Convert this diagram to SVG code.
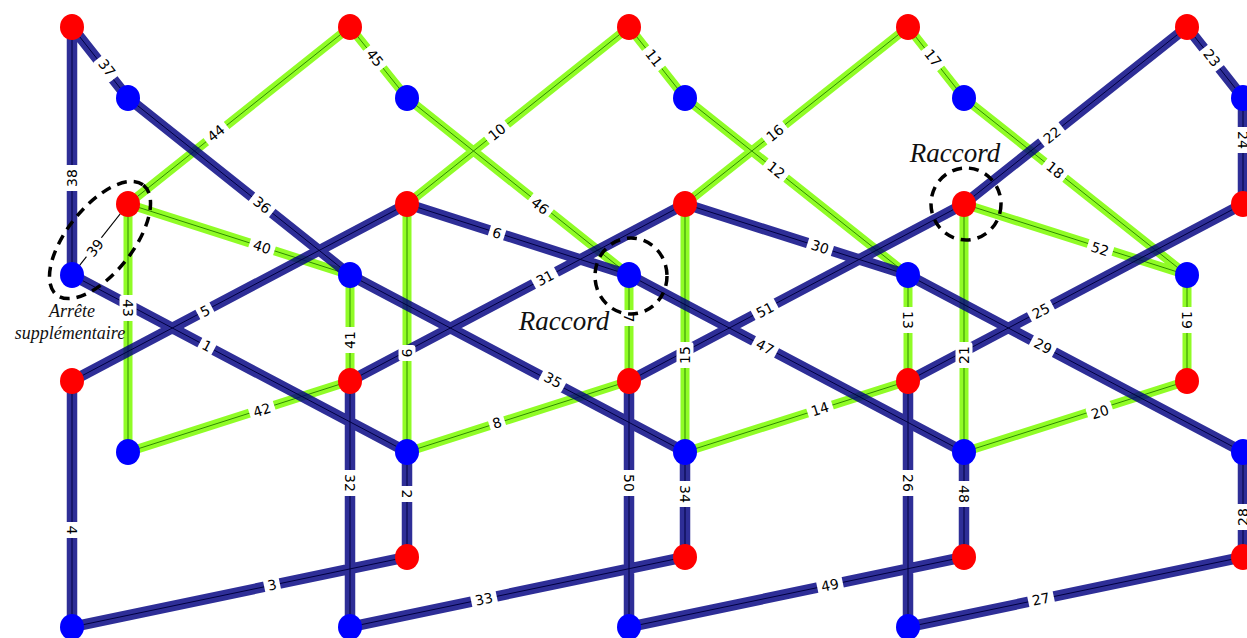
<svg xmlns="http://www.w3.org/2000/svg" width="1247" height="638" viewBox="0 0 1247 638">
<style>
.b{stroke:#000080;stroke-opacity:.82;stroke-width:10.5;fill:none}
.bc{stroke:#000040;stroke-width:1;fill:none}
.g{stroke:#7cfc00;stroke-opacity:.85;stroke-width:9;fill:none}
.gc{stroke:#2f8a00;stroke-width:1;fill:none}
.thin{stroke:#000;stroke-width:1.2;fill:none}
.R{fill:#ff0000}
.B{fill:#0000ff}
.lb text{font-family:"DejaVu Sans",sans-serif;font-size:14px;fill:#000;text-anchor:middle}
.ann{font-family:"Liberation Serif",serif;font-style:italic;fill:#111;text-anchor:middle}
.dash{fill:none;stroke:#000;stroke-width:3.5;stroke-dasharray:10 7}
</style>
<defs>
<rect id="r2" x="-13" y="-8.5" width="26" height="17" rx="3" fill="#ffffff"/>
<rect id="r1" x="-8" y="-8.5" width="16" height="17" rx="3" fill="#ffffff"/>
</defs>
<g id="connectors">
<g id="green-edges">
<path class="g" d="M128,204L350,27M350,27L407,98M407,98L629,275M128,204L350,275M128,204L128,452M128,452L350,381M350,275L350,381M407,204L407,452M407,204L629,27M629,27L685,98M685,98L908,275M407,452L629,381M629,275L629,381M685,204L685,452M685,204L908,27M908,27L964,98M964,98L1187,275M908,275L908,381M685,452L908,381M964,204L1187,275M964,204L964,452M1187,275L1187,381M964,452L1187,381"/>
<path class="gc" d="M128,204L350,27M350,27L407,98M407,98L629,275M128,204L350,275M128,204L128,452M128,452L350,381M350,275L350,381M407,204L407,452M407,204L629,27M629,27L685,98M685,98L908,275M407,452L629,381M629,275L629,381M685,204L685,452M685,204L908,27M908,27L964,98M964,98L1187,275M908,275L908,381M685,452L908,381M964,204L1187,275M964,204L964,452M1187,275L1187,381M964,452L1187,381"/>
</g>
<g id="blue-edges">
<path class="b" d="M72,27L72,275M72,27L128,98M128,98L350,275M350,275L685,452M72,275L407,452M72,381L407,204M72,381L72,627M72,627L407,557M350,381L350,627M407,452L407,557M350,381L685,204M407,204L629,275M629,381L964,204M685,204L908,275M629,275L964,452M629,381L629,627M685,452L685,557M350,627L685,557M964,204L1187,27M1187,27L1243,98M1243,98L1243,204M908,381L1243,204M908,275L1243,452M908,381L908,627M964,452L964,557M629,627L964,557M908,627L1243,557M1243,452L1243,557"/>
<path class="bc" d="M72,27L72,275M72,27L128,98M128,98L350,275M350,275L685,452M72,275L407,452M72,381L407,204M72,381L72,627M72,627L407,557M350,381L350,627M407,452L407,557M350,381L685,204M407,204L629,275M629,381L964,204M685,204L908,275M629,275L964,452M629,381L629,627M685,452L685,557M350,627L685,557M964,204L1187,27M1187,27L1243,98M1243,98L1243,204M908,381L1243,204M908,275L1243,452M908,381L908,627M964,452L964,557M629,627L964,557M908,627L1243,557M1243,452L1243,557"/>
</g>
<path id="extra-edge" class="thin" d="M128,204L72,275"/>
<g id="edge-labels" class="lb">
<g transform="translate(72,178) rotate(-90)"><use href="#r2"/><text dy="5">38</text></g>
<g transform="translate(107,68) rotate(51.7)"><use href="#r2"/><text dy="5">37</text></g>
<g transform="translate(262,205) rotate(38.6)"><use href="#r2"/><text dy="5">36</text></g>
<g transform="translate(553,380) rotate(27.85)"><use href="#r2"/><text dy="5">35</text></g>
<g transform="translate(207,346) rotate(27.85)"><use href="#r1"/><text dy="5">1</text></g>
<g transform="translate(205,311) rotate(-27.85)"><use href="#r1"/><text dy="5">5</text></g>
<g transform="translate(72,530) rotate(90)"><use href="#r1"/><text dy="5">4</text></g>
<g transform="translate(272,585) rotate(-11.8)"><use href="#r1"/><text dy="5">3</text></g>
<g transform="translate(350,483) rotate(90)"><use href="#r2"/><text dy="5">32</text></g>
<g transform="translate(407,494) rotate(90)"><use href="#r1"/><text dy="5">2</text></g>
<g transform="translate(545,278) rotate(-27.85)"><use href="#r2"/><text dy="5">31</text></g>
<g transform="translate(497,233) rotate(17.7)"><use href="#r1"/><text dy="5">6</text></g>
<g transform="translate(765,310) rotate(-27.85)"><use href="#r2"/><text dy="5">51</text></g>
<g transform="translate(820,247) rotate(17.7)"><use href="#r2"/><text dy="5">30</text></g>
<g transform="translate(765,347) rotate(27.85)"><use href="#r2"/><text dy="5">47</text></g>
<g transform="translate(629,483) rotate(90)"><use href="#r2"/><text dy="5">50</text></g>
<g transform="translate(685,494) rotate(90)"><use href="#r2"/><text dy="5">34</text></g>
<g transform="translate(484,599) rotate(-11.8)"><use href="#r2"/><text dy="5">33</text></g>
<g transform="translate(1052,135) rotate(-38.6)"><use href="#r2"/><text dy="5">22</text></g>
<g transform="translate(1212,58) rotate(51.7)"><use href="#r2"/><text dy="5">23</text></g>
<g transform="translate(1243,140) rotate(90)"><use href="#r2"/><text dy="5">24</text></g>
<g transform="translate(1041,311) rotate(-27.85)"><use href="#r2"/><text dy="5">25</text></g>
<g transform="translate(1043,346) rotate(27.85)"><use href="#r2"/><text dy="5">29</text></g>
<g transform="translate(908,483) rotate(90)"><use href="#r2"/><text dy="5">26</text></g>
<g transform="translate(964,494) rotate(90)"><use href="#r2"/><text dy="5">48</text></g>
<g transform="translate(830,585) rotate(-11.8)"><use href="#r2"/><text dy="5">49</text></g>
<g transform="translate(1041,599) rotate(-11.8)"><use href="#r2"/><text dy="5">27</text></g>
<g transform="translate(1243,517) rotate(-90)"><use href="#r2"/><text dy="5">28</text></g>
<g transform="translate(216,133) rotate(-38.6)"><use href="#r2"/><text dy="5">44</text></g>
<g transform="translate(375,58) rotate(51.7)"><use href="#r2"/><text dy="5">45</text></g>
<g transform="translate(540,206) rotate(38.6)"><use href="#r2"/><text dy="5">46</text></g>
<g transform="translate(262,247) rotate(17.7)"><use href="#r2"/><text dy="5">40</text></g>
<g transform="translate(128,308) rotate(90)"><use href="#r2"/><text dy="5">43</text></g>
<g transform="translate(262,410) rotate(-17.7)"><use href="#r2"/><text dy="5">42</text></g>
<g transform="translate(350,340) rotate(-90)"><use href="#r2"/><text dy="5">41</text></g>
<g transform="translate(407,353) rotate(90)"><use href="#r1"/><text dy="5">9</text></g>
<g transform="translate(497,132) rotate(-38.6)"><use href="#r2"/><text dy="5">10</text></g>
<g transform="translate(654,58) rotate(51.7)"><use href="#r2"/><text dy="5">11</text></g>
<g transform="translate(776,170) rotate(38.6)"><use href="#r2"/><text dy="5">12</text></g>
<g transform="translate(497,423) rotate(-17.7)"><use href="#r1"/><text dy="5">8</text></g>
<g transform="translate(629,318) rotate(90)"><use href="#r1"/><text dy="5">7</text></g>
<g transform="translate(685,355) rotate(-90)"><use href="#r2"/><text dy="5">15</text></g>
<g transform="translate(775,133) rotate(-38.6)"><use href="#r2"/><text dy="5">16</text></g>
<g transform="translate(933,58) rotate(51.7)"><use href="#r2"/><text dy="5">17</text></g>
<g transform="translate(1055,170) rotate(38.6)"><use href="#r2"/><text dy="5">18</text></g>
<g transform="translate(908,320) rotate(90)"><use href="#r2"/><text dy="5">13</text></g>
<g transform="translate(820,409) rotate(-17.7)"><use href="#r2"/><text dy="5">14</text></g>
<g transform="translate(1100,249) rotate(17.7)"><use href="#r2"/><text dy="5">52</text></g>
<g transform="translate(964,355) rotate(-90)"><use href="#r2"/><text dy="5">21</text></g>
<g transform="translate(1187,320) rotate(90)"><use href="#r2"/><text dy="5">19</text></g>
<g transform="translate(1100,412) rotate(-17.7)"><use href="#r2"/><text dy="5">20</text></g>
<g transform="translate(95,248) rotate(-51.7)"><rect x="-12" y="-7.5" width="24" height="15" rx="3" fill="#ffffff"/><text dy="5">39</text></g>
</g>
</g>
<g id="nodes">
<ellipse id="n1" class="R" cx="72" cy="27" rx="12" ry="13"/>
<ellipse id="n2" class="B" cx="72" cy="275" rx="12" ry="13"/>
<ellipse id="n3" class="R" cx="72" cy="381" rx="12" ry="13"/>
<ellipse id="n4" class="B" cx="72" cy="627" rx="12" ry="13"/>
<ellipse id="n5" class="B" cx="128" cy="98" rx="12" ry="13"/>
<ellipse id="n6" class="R" cx="128" cy="204" rx="12" ry="13"/>
<ellipse id="n7" class="B" cx="128" cy="452" rx="12" ry="13"/>
<ellipse id="n8" class="R" cx="350" cy="27" rx="12" ry="13"/>
<ellipse id="n9" class="B" cx="350" cy="275" rx="12" ry="13"/>
<ellipse id="n10" class="R" cx="350" cy="381" rx="12" ry="13"/>
<ellipse id="n11" class="B" cx="350" cy="627" rx="12" ry="13"/>
<ellipse id="n12" class="B" cx="407" cy="98" rx="12" ry="13"/>
<ellipse id="n13" class="R" cx="407" cy="204" rx="12" ry="13"/>
<ellipse id="n14" class="B" cx="407" cy="452" rx="12" ry="13"/>
<ellipse id="n15" class="R" cx="407" cy="557" rx="12" ry="13"/>
<ellipse id="n16" class="R" cx="629" cy="27" rx="12" ry="13"/>
<ellipse id="n17" class="B" cx="629" cy="275" rx="12" ry="13"/>
<ellipse id="n18" class="R" cx="629" cy="381" rx="12" ry="13"/>
<ellipse id="n19" class="B" cx="629" cy="627" rx="12" ry="13"/>
<ellipse id="n20" class="B" cx="685" cy="98" rx="12" ry="13"/>
<ellipse id="n21" class="R" cx="685" cy="204" rx="12" ry="13"/>
<ellipse id="n22" class="B" cx="685" cy="452" rx="12" ry="13"/>
<ellipse id="n23" class="R" cx="685" cy="557" rx="12" ry="13"/>
<ellipse id="n24" class="R" cx="908" cy="27" rx="12" ry="13"/>
<ellipse id="n25" class="B" cx="908" cy="275" rx="12" ry="13"/>
<ellipse id="n26" class="R" cx="908" cy="381" rx="12" ry="13"/>
<ellipse id="n27" class="B" cx="908" cy="627" rx="12" ry="13"/>
<ellipse id="n28" class="B" cx="964" cy="98" rx="12" ry="13"/>
<ellipse id="n29" class="R" cx="964" cy="204" rx="12" ry="13"/>
<ellipse id="n30" class="B" cx="964" cy="452" rx="12" ry="13"/>
<ellipse id="n31" class="R" cx="964" cy="557" rx="12" ry="13"/>
<ellipse id="n32" class="R" cx="1187" cy="27" rx="12" ry="13"/>
<ellipse id="n33" class="B" cx="1187" cy="275" rx="12" ry="13"/>
<ellipse id="n34" class="R" cx="1187" cy="381" rx="12" ry="13"/>
<ellipse id="n35" class="B" cx="1243" cy="98" rx="12" ry="13"/>
<ellipse id="n36" class="R" cx="1243" cy="204" rx="12" ry="13"/>
<ellipse id="n37" class="B" cx="1243" cy="452" rx="12" ry="13"/>
<ellipse id="n38" class="R" cx="1243" cy="557" rx="12" ry="13"/>
</g>
<g id="annotations">
<ellipse class="dash" cx="100" cy="240" rx="70" ry="33" transform="rotate(-51.7 100 240)"/>
<ellipse class="dash" cx="631" cy="276" rx="36" ry="38"/>
<ellipse class="dash" cx="966" cy="204" rx="35" ry="36"/>
<text class="ann" x="72" y="317" font-size="18">Arrête</text>
<text class="ann" x="70" y="339" font-size="18">supplémentaire</text>
<text class="ann" x="564" y="330" font-size="27">Raccord</text>
<text class="ann" x="955" y="162" font-size="27">Raccord</text>
</g>
</svg>
